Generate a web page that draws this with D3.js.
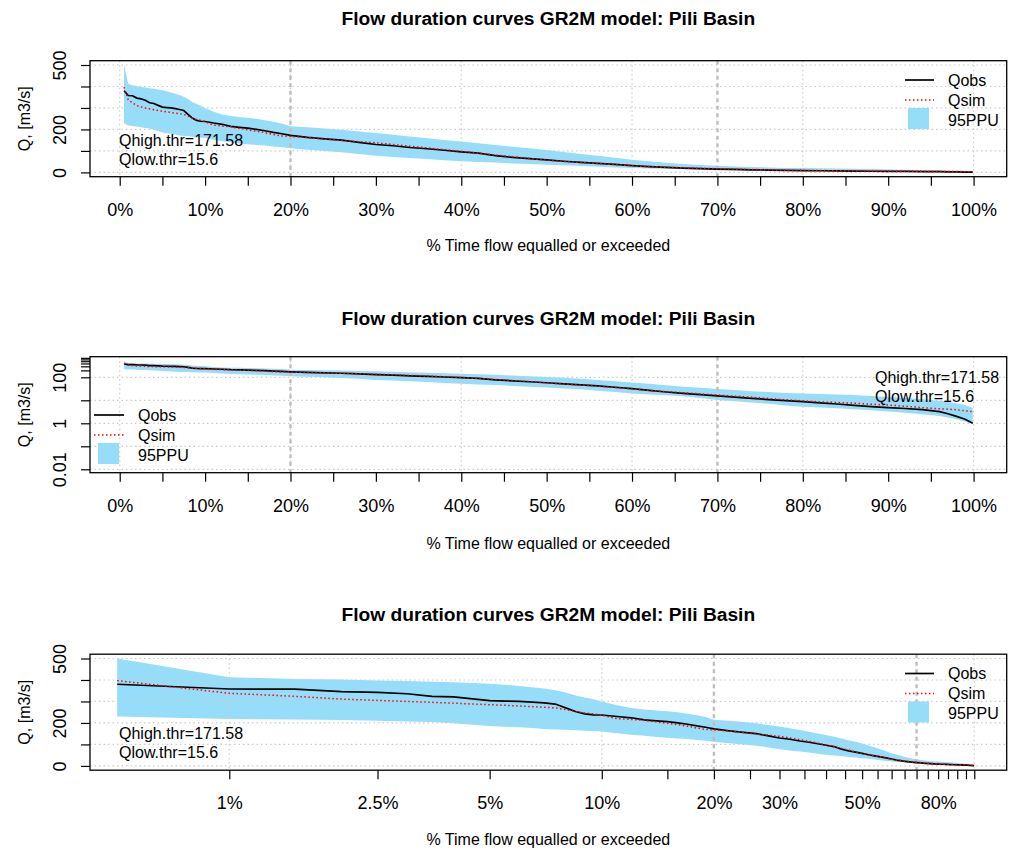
<!DOCTYPE html>
<html><head><meta charset="utf-8">
<script src="https://cdn.jsdelivr.net/npm/d3@7"></script>
<style>
body{margin:0;background:#fff}
svg{display:block}
text{font-family:"Liberation Sans",Arial,Helvetica,sans-serif;fill:#000}
</style>
</head><body>
<svg id="c" width="1011" height="850"></svg>
<script>
// ---------- data ----------
const titleText = "Flow duration curves GR2M model: Pili Basin";
const xTitle = "% Time flow equalled or exceeded";
const yTitle = "Q, [m3/s]";
const legendLabels = ["Qobs", "Qsim", "95PPU"];
const thrPct = [20, 70];
const thrLabels = ["Qhigh.thr=171.58", "Qlow.thr=15.6"];

// % time flow equalled or exceeded
const pct = [0.5,1,1.5,2,2.5,3,3.5,4,4.5,5,5.5,6,6.5,7,7.5,8,8.5,9,9.5,10,
  11,12,13,14,15,16,17,18,19,20,
  22,24,26,28,30,32,34,36,38,40,
  42,44,46,48,50,52,54,56,58,60,
  62,64,66,68,70,72,74,76,78,80,
  82,84,86,88,90,92,94,96,
  97,98,99,99.9];
const qobs = [380,358,357,346,342,336,324,321,312,304,302,300,297,293,288,270,253,242,238,237,
  230,224,214,210,206,200,194,186,180,172,
  163,156,150,140,130,124,116,110,103,96,
  90,78,70,64,58,52,47,42,37,32,
  27,23,20,17.5,15.6,13.8,12.2,10.8,9.6,8.7,
  7.8,6.9,6.0,5.3,4.8,4.4,3.9,3.2,
  2.6,2.0,1.5,1.0];
const qsim = [397,338,324,311,305,300,296,292,288,285,282,279,276,273,270,262,253,246,242,236,
  220,216,212,205,198,192,185,176,170,168,
  162,155,148,143,138,130,122,114,106,98,
  90,81,73,65,57,51,46,41,36,31,
  27,24,21.5,19,17,15,13.5,12,10.5,9.5,
  8.5,8.0,7.5,6.8,6.2,5.5,4.8,4.3,
  4.1,3.9,3.5,3.2];
const ppuUp = [500,413,405,402,398,395,392,389,386,382,378,372,366,360,352,342,328,318,310,300,
  282,270,262,258,255,250,243,236,228,215,
  210,204,198,190,183,175,167,159,151,144,
  136,128,120,112,104,95,86,77,68,59,
  52,45,39,35,31,28,25,23,21,20,
  19,18,17,15.5,14,12.5,11,9.5,
  8.5,7.4,6.2,4.6];
const ppuLow = [230,218,216,214,210,207,204,198,192,186,182,180,176,172,170,168,166,164,162,160,
  152,145,140,135,131,128,125,121,117,112,
  106,100,94,86,77,72,67,62,57,52,
  49,46,42,39,36,33,30,26,23,20,
  18,16.5,15,12.5,10.3,9,8,7,6,5.3,
  4.9,4.5,4.1,3.7,3.3,2.9,2.5,2.1,
  1.8,1.5,1.2,0.93];

// axis ticks / labels
const linXTicks = [0,5,10,15,20,25,30,35,40,45,50,55,60,65,70,75,80,85,90,95,100];
const linXLabels = [0,10,20,30,40,50,60,70,80,90,100];
const linXGrid = [0,20,40,60,80,100];
const logXTicks = [1,2.5,5,10,15,20,25,30,35,40,45,50,55,60,65,70,75,80,85,90,95,100];
const logXLabels = [1,2.5,5,10,20,30,50,80];
const logXGrid = [1,10,100];
const linYTicks = [0,100,200,300,400,500];
const linYLabels = [0,200,500];
const logYTicks = [0.01,0.1,1,10,100,200,300,400,500,600,700];
const logYLabels = [0.01,1,100];
const logYGrid = [0.01,0.1,1,10,100];

// ---------- drawing ----------
const svg = d3.select("#c");
const boxL = 90, boxR = 1006.7, boxH = 116, top0 = 60.7;
const xLinDomain = [-3.48, 103.88];
const xLogDomain = [0.4227, 122.2];
const yLinDomain = [-20, 520];
const yLogDomain = [0.00711, 787];
const bandColor = "#96DDFA";
const gridColor = "#cbcbcb";

const rows = pct.map((p, i) => ({p, obs: qobs[i], sim: qsim[i], lo: ppuLow[i], hi: ppuUp[i]}));

const panels = [
  {off: 0,     xLog: false, yLog: false, legend: "right", thrX: 119, thrDy: [85.5, 104.5], titleDy: -36, xtDy: 190},
  {off: 296,   xLog: false, yLog: true,  legend: "left",  thrX: 875, thrDy: [26.5, 45],    titleDy: -32, xtDy: 192},
  {off: 593.5, xLog: true,  yLog: false, legend: "right", thrX: 119, thrDy: [85, 104],     titleDy: -33, xtDy: 191}
];

panels.forEach((p, pi) => {
  const T = top0 + p.off, B = T + boxH;
  const g = svg.append("g");
  const x = p.xLog ? d3.scaleLog().domain(xLogDomain).range([boxL, boxR])
                   : d3.scaleLinear().domain(xLinDomain).range([boxL, boxR]);
  const y = p.yLog ? d3.scaleLog().domain(yLogDomain).range([B, T])
                   : d3.scaleLinear().domain(yLinDomain).range([B, T]);

  const clipId = "clip" + pi;
  svg.append("clipPath").attr("id", clipId).append("rect")
    .attr("x", boxL).attr("y", T).attr("width", boxR - boxL).attr("height", boxH);

  // title
  g.append("text").attr("x", (boxL + boxR) / 2).attr("y", T + p.titleDy)
    .attr("text-anchor", "middle").attr("font-size", 19.2).attr("font-weight", "bold")
    .text(titleText);

  // band
  const plot = g.append("g").attr("clip-path", `url(#${clipId})`);
  plot.append("path").datum(rows)
    .attr("d", d3.area().x(d => x(d.p)).y0(d => y(d.lo)).y1(d => y(d.hi)))
    .attr("fill", bandColor).attr("stroke", "none");

  // grid
  const gxv = p.xLog ? logXGrid : linXGrid;
  const gyv = p.yLog ? logYGrid : linYTicks;
  plot.selectAll(".gv").data(gxv).join("line")
    .attr("x1", d => x(d)).attr("x2", d => x(d)).attr("y1", T).attr("y2", B)
    .attr("stroke", gridColor).attr("stroke-width", 1.2).attr("stroke-dasharray", "1.5,3");
  plot.selectAll(".gh").data(gyv).join("line")
    .attr("x1", boxL).attr("x2", boxR).attr("y1", d => y(d)).attr("y2", d => y(d))
    .attr("stroke", gridColor).attr("stroke-width", 1.2).attr("stroke-dasharray", "1.5,3");

  // threshold lines
  plot.selectAll(".thr").data(thrPct).join("line")
    .attr("x1", d => x(d)).attr("x2", d => x(d)).attr("y1", T).attr("y2", B)
    .attr("stroke", "#bdbdbd").attr("stroke-width", 2.4).attr("stroke-dasharray", "4,3.5");

  // curves
  plot.append("path").datum(rows)
    .attr("d", d3.line().x(d => x(d.p)).y(d => y(d.obs)))
    .attr("fill", "none").attr("stroke", "#000").attr("stroke-width", 1.7);
  plot.append("path").datum(rows)
    .attr("d", d3.line().x(d => x(d.p)).y(d => y(d.sim)))
    .attr("fill", "none").attr("stroke", "#ff0000").attr("stroke-width", 1.5)
    .attr("stroke-dasharray", "1.5,2.5");

  // box
  g.append("rect").attr("x", boxL).attr("y", T).attr("width", boxR - boxL).attr("height", boxH)
    .attr("fill", "none").attr("stroke", "#000").attr("stroke-width", 1.3);

  // x axis
  const xTicks = p.xLog ? logXTicks : linXTicks;
  const xLabs = p.xLog ? logXLabels : linXLabels;
  const xa = g.append("g").attr("transform", `translate(0,${B})`)
    .call(d3.axisBottom(x).tickValues(xTicks).tickSize(9).tickSizeOuter(0).tickPadding(17.5)
      .tickFormat(d => xLabs.includes(d) ? d + "%" : ""));
  xa.select(".domain").remove();
  xa.selectAll("line").attr("stroke", "#000").attr("stroke-width", 1.2);
  xa.selectAll("text").attr("font-size", 18).attr("font-family", null);

  // y axis
  const yTicks = p.yLog ? logYTicks : linYTicks;
  const yLabs = p.yLog ? logYLabels : linYLabels;
  const ya = g.append("g").attr("transform", `translate(${boxL},0)`)
    .call(d3.axisLeft(y).tickValues(yTicks).tickSize(9).tickSizeOuter(0)
      .tickFormat(d => yLabs.includes(d) ? String(d) : ""));
  ya.select(".domain").remove();
  ya.selectAll("line").attr("stroke", "#000").attr("stroke-width", 1.2);
  ya.selectAll("text").attr("font-size", 18).attr("font-family", null)
    .attr("x", 0).attr("dy", 0).attr("text-anchor", "middle")
    .attr("transform", "translate(-24.5,0) rotate(-90)");

  // axis titles
  g.append("text").attr("x", (boxL + boxR) / 2).attr("y", T + p.xtDy)
    .attr("text-anchor", "middle").attr("font-size", 16).text(xTitle);
  g.append("text").attr("transform", `translate(30,${T + 58}) rotate(-90)`)
    .attr("text-anchor", "middle").attr("font-size", 16).text(yTitle);

  // threshold text
  g.selectAll(".thrt").data(thrLabels).join("text")
    .attr("x", p.thrX).attr("y", (d, i) => T + p.thrDy[i])
    .attr("font-size", 16).text(d => d);

  // legend
  const lg = p.legend === "right"
    ? {lx1: 905, lx2: 934, bx: 908, tx: 948, y0: T + 19.3}
    : {lx1: 94, lx2: 124, bx: 98, tx: 138, y0: T + 58.3};
  const leg = g.append("g");
  leg.append("line").attr("x1", lg.lx1).attr("x2", lg.lx2).attr("y1", lg.y0).attr("y2", lg.y0)
    .attr("stroke", "#000").attr("stroke-width", 1.7);
  leg.append("line").attr("x1", lg.lx1).attr("x2", lg.lx2).attr("y1", lg.y0 + 20).attr("y2", lg.y0 + 20)
    .attr("stroke", "#ff0000").attr("stroke-width", 1.5).attr("stroke-dasharray", "1.5,2.5");
  leg.append("rect").attr("x", lg.bx).attr("y", lg.y0 + 28).attr("width", 21).attr("height", 21)
    .attr("fill", bandColor);
  leg.selectAll("text").data(legendLabels).join("text")
    .attr("x", lg.tx).attr("y", (d, i) => lg.y0 + 5.8 + i * 20)
    .attr("font-size", 16).text(d => d);
});
</script>
</body></html>
